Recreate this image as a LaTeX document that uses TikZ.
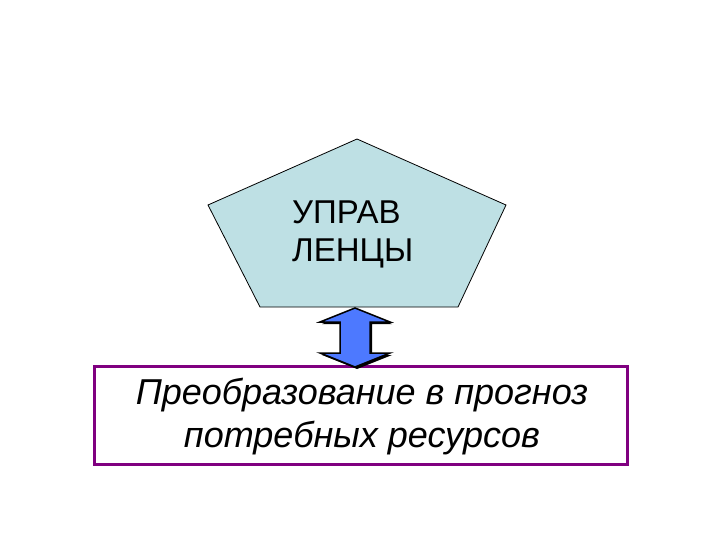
\documentclass[tikz,border=0pt]{standalone}
\usepackage{fontspec}
\setmainfont{Liberation Sans}
\definecolor{pentfill}{RGB}{190,224,228}
\definecolor{boxpurple}{RGB}{128,0,128}
\definecolor{arrowblue}{RGB}{77,121,255}
\begin{document}
\begin{tikzpicture}[x=1pt,y=-1pt,
  toptext/.style={font=\fontsize{33}{38}\selectfont, inner sep=0pt, anchor=base west},
  boxtext/.style={font=\itshape\fontsize{36}{43}\selectfont, inner sep=0pt, anchor=base}]
\useasboundingbox (0,0) rectangle (720,540);
\fill[white] (0,0) rectangle (720,540);
% pentagon
\draw[fill=pentfill, line width=0.8pt]
  (357,139) -- (506,205) -- (458,307) -- (260,307) -- (208,205) -- cycle;
\node[toptext] (mgra) at (292,223) {УПРАВ};
\node[toptext] (mgrb) at (292,261) {ЛЕНЦЫ};
% box
\draw[boxpurple, line width=3pt] (94,366) rectangle (627,464);
\node[boxtext] (conva) at (362,404) {Преобразование в прогноз};
\node[boxtext] (convb) at (362,447) {потребных ресурсов};
% double arrow (shadow, then body)
\fill[black]
  (357,310) -- (392,324) -- (372,324) -- (372,355) -- (392,355) -- (357,369)
  -- (322,355) -- (342,355) -- (342,324) -- (322,324) -- cycle;
\draw[fill=arrowblue, line width=1.5pt, line join=miter]
  (355,308) -- (390,322) -- (370,322) -- (370,353) -- (390,353) -- (355,367)
  -- (320,353) -- (340,353) -- (340,322) -- (320,322) -- cycle;
\end{tikzpicture}
\end{document}
